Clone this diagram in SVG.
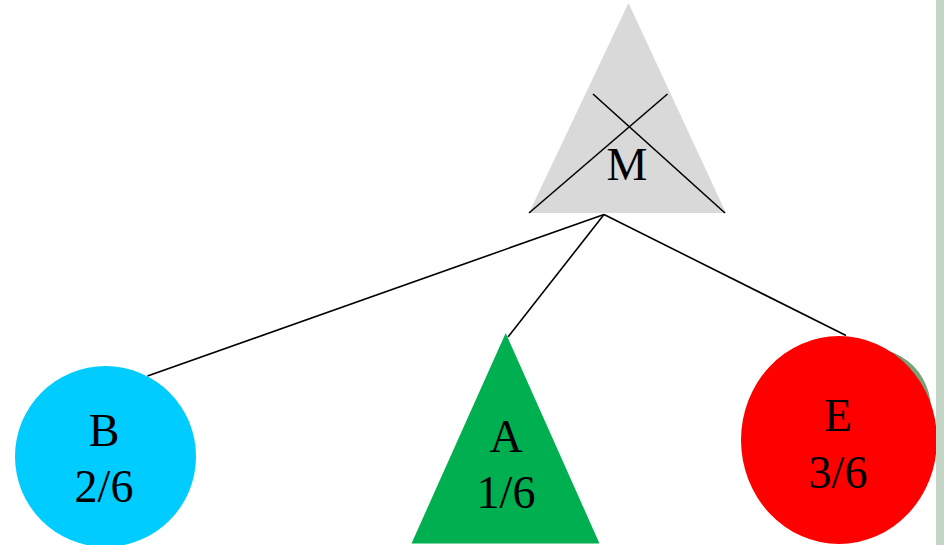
<svg xmlns="http://www.w3.org/2000/svg" width="947" height="545" viewBox="0 0 947 545">
<style>
.lbl{font-family:"Liberation Serif","Times New Roman",serif;font-size:46px;fill:#000;text-anchor:middle}
.conn line{stroke:#000;stroke-width:1.6}
.cross{stroke:#000;stroke-width:1.6}
</style>
<defs>
<clipPath id="shclip"><rect x="860" y="300" width="90" height="120"/></clipPath>
</defs>
<rect width="947" height="545" fill="#fff"/>
<g id="connectors" class="conn">
<line x1="604" y1="214.5" x2="147.5" y2="376"/>
<line x1="604" y1="214.5" x2="508" y2="337"/>
<line x1="604" y1="214.5" x2="846" y2="335.5"/>
</g>
<g id="node-M">
<polygon points="628.5,3 726,213 529,213" fill="#d9d9d9"/>
<line class="cross" x1="593" y1="94" x2="725" y2="213"/>
<line class="cross" x1="667.5" y1="94" x2="529" y2="213"/>
<text class="lbl" x="627" y="180">M</text>
</g>
<g id="node-B">
<circle cx="105.5" cy="456.5" r="90.5" fill="#00ccff"/>
<text class="lbl" x="104" y="446">B</text>
<text class="lbl" x="104" y="502">2/6</text>
</g>
<g id="node-A">
<polygon points="505.7,333 599.5,543.5 411.5,543.5" fill="#00b050"/>
<text class="lbl" x="506" y="452">A</text>
<text class="lbl" x="506" y="508">1/6</text>
</g>
<g id="node-E">
<g clip-path="url(#shclip)">
<ellipse cx="0" cy="0" rx="105" ry="78" transform="translate(839,440) rotate(-45)" fill="#77a177"/>
</g>
<ellipse cx="839" cy="440" rx="98" ry="104" fill="#ff0000"/>
<text class="lbl" x="838" y="431">E</text>
<text class="lbl" x="838" y="488">3/6</text>
</g>
<rect id="side-bar" x="936" y="0" width="8" height="545" fill="#c3d5c5"/>
</svg>
